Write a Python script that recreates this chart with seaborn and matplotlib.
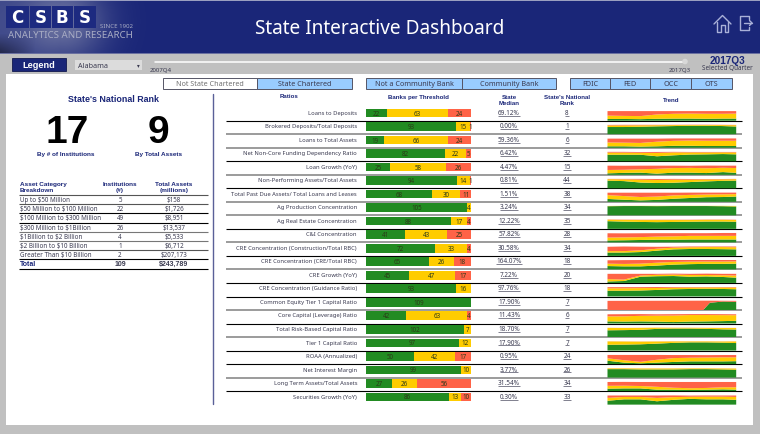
import matplotlib
matplotlib.use("Agg")
import matplotlib.pyplot as plt
from matplotlib.patches import Rectangle, Circle
import seaborn as sns
import numpy as np
import pandas as pd

ratios = ["Loans to Deposits", "Brokered Deposits/Total Deposits", "Loans to Total Assets",
          "Net Non-Core Funding Dependency Ratio", "Loan Growth (YoY)", "Non-Performing Assets/Total Assets",
          "Total Past Due Assets/ Total Loans and Leases", "Ag Production Concentration",
          "Ag Real Estate Concentration", "C&I Concentration", "CRE Concentration (Construction/Total RBC)",
          "CRE Concentration (CRE/Total RBC)", "CRE Growth (YoY)", "CRE Concentration (Guidance Ratio)",
          "Common Equity Tier 1 Capital Ratio", "Core Capital (Leverage) Ratio", "Total Risk-Based Capital Ratio",
          "Tier 1 Capital Ratio", "ROAA (Annualized)", "Net Interest Margin", "Long Term Assets/Total Assets",
          "Securities Growth (YoY)"]
banks_green = [22, 93, 19, 82, 25, 94, 68, 105, 88, 41, 72, 65, 45, 93, 109, 42, 102, 97, 50, 99, 27, 86]
banks_yellow = [63, 15, 66, 22, 58, 14, 30, 4, 17, 43, 33, 26, 47, 16, 0, 63, 7, 12, 42, 10, 26, 13]
banks_red = [24, 1, 24, 5, 26, 1, 11, 0, 4, 25, 4, 18, 17, 0, 0, 4, 0, 0, 17, 0, 56, 10]
state_median = ["69.12%", "0.00%", "59.36%", "6.42%", "4.47%", "0.81%", "1.51%", "3.24%", "12.22%", "57.82%",
                "30.58%", "164.07%", "7.22%", "97.76%", "17.90%", "11.43%", "18.70%", "17.90%", "0.95%", "3.77%",
                "31.54%", "0.30%"]
national_rank = ["8", "1", "6", "32", "15", "44", "38", "34", "35", "28", "34", "18", "20", "18", "7", "6", "7", "7",
                 "24", "26", "34", "33"]

trend_q = [0, 5, 10, 15, 20, 25, 30, 35, 39]
trend_green = [
    [18, 18, 16, 20, 22, 22, 20, 22, 22], [75, 75, 78, 82, 85, 88, 88, 85, 80], [15, 15, 12, 15, 20, 20, 18, 18, 18],
    [68, 68, 68, 52, 62, 70, 72, 75, 72], [15, 20, 22, 12, 22, 22, 18, 28, 20], [80, 75, 60, 55, 58, 65, 72, 78, 80],
    [30, 22, 15, 20, 32, 40, 48, 50, 55], [95, 97, 97, 96, 97, 97, 97, 95, 92], [80, 75, 72, 70, 72, 74, 76, 76, 74],
    [20, 22, 25, 28, 28, 30, 30, 30, 30], [35, 35, 40, 55, 68, 72, 72, 70, 68], [35, 32, 32, 40, 50, 55, 58, 58, 60],
    [15, 20, 65, 70, 72, 65, 68, 62, 55], [60, 60, 62, 68, 75, 78, 80, 78, 75], None,
    [22, 20, 22, 20, 15, 20, 22, 25, 28], [70, 72, 75, 85, 88, 88, 85, 80, 78], [60, 62, 65, 72, 80, 85, 85, 82, 78],
    [35, 15, 8, 15, 22, 28, 28, 28, 30], [88, 88, 85, 85, 85, 88, 88, 85, 82], [25, 28, 28, 15, 15, 12, 15, 18, 15],
    [40, 55, 55, 35, 50, 60, 55, 55, 50]]
trend_yellow = [
    [35, 32, 32, 45, 50, 52, 52, 50, 52], [17, 17, 15, 12, 10, 8, 8, 10, 14], [40, 38, 38, 48, 52, 55, 55, 55, 55],
    [22, 22, 20, 35, 30, 22, 20, 18, 20], [35, 32, 35, 50, 48, 50, 50, 45, 50], [15, 18, 30, 32, 32, 25, 20, 15, 15],
    [40, 38, 35, 35, 35, 32, 28, 28, 25], [3, 2, 2, 3, 2, 2, 2, 4, 6], [15, 18, 20, 22, 20, 18, 18, 18, 18],
    [30, 30, 30, 32, 35, 38, 38, 38, 38], [15, 15, 18, 20, 18, 18, 20, 22, 22], [25, 25, 28, 30, 28, 26, 24, 24, 24],
    [25, 15, 12, 15, 15, 18, 15, 18, 22], [25, 25, 25, 20, 16, 15, 14, 16, 18], None,
    [52, 55, 58, 62, 68, 68, 66, 62, 58], [25, 22, 20, 12, 8, 8, 10, 14, 16], [35, 32, 28, 22, 15, 10, 10, 12, 17],
    [25, 25, 15, 30, 40, 38, 40, 42, 40], [8, 8, 10, 10, 10, 8, 8, 10, 12], [30, 28, 25, 30, 20, 18, 18, 22, 25],
    [30, 25, 25, 35, 28, 22, 28, 28, 30]]
trend_red = [
    [47, 50, 52, 35, 28, 26, 28, 28, 26], [5, 6, 5, 4, 3, 3, 3, 3, 3], [40, 42, 45, 32, 25, 22, 24, 24, 24],
    [8, 8, 8, 10, 6, 5, 5, 4, 5], [45, 42, 38, 33, 25, 22, 28, 22, 25], [3, 5, 8, 10, 8, 7, 5, 4, 3],
    [25, 35, 45, 40, 28, 24, 20, 18, 16], [0, 0, 0, 0, 0, 0, 0, 0, 0], [3, 3, 3, 3, 3, 3, 3, 3, 3],
    [45, 42, 40, 36, 33, 28, 28, 30, 30], [45, 48, 38, 20, 10, 8, 6, 6, 8], [35, 40, 38, 28, 20, 17, 16, 16, 14],
    [55, 60, 18, 10, 10, 12, 14, 15, 18], [12, 12, 10, 10, 7, 5, 4, 4, 5], None,
    [22, 22, 18, 14, 14, 10, 10, 10, 10], [1, 1, 1, 1, 1, 1, 1, 1, 1], [1, 1, 1, 1, 1, 1, 1, 1, 1],
    [35, 55, 72, 50, 32, 28, 25, 24, 24], [1, 1, 1, 1, 1, 1, 1, 1, 1], [40, 40, 42, 50, 60, 65, 62, 55, 55],
    [25, 15, 15, 25, 18, 12, 12, 12, 15]]
# the tier 1 common ratio only starts late, so it gets its own quarters
cet1_q = [0, 29, 31, 35, 39]
cet1_green = [0, 0, 75, 88, 85]
cet1_yellow = [0, 0, 0, 0, 0]
cet1_red = [95, 97, 22, 8, 10]

asset_cats = ["Up to $50 Million", "$50 Million to $100 Million", "$100 Million to $300 Million",
              "$300 Million to $1Billion", "$1Billion to $2 Billion", "$2 Billion to $10 Billion",
              "Greater Than $10 Billion", "Total"]
asset_inst = ["5", "22", "49", "26", "4", "1", "2", "109"]
asset_total = ["$158", "$1,726", "$8,951", "$13,537", "$5,533", "$6,712", "$207,173", "$243,789"]

W, H = 760, 435
NAVY = "#1a2678"
GREEN, YELLOW, RED = "#228b22", "#ffcc00", "#ff6347"
TXT = "#3a3a50"
FONT = "Noto Sans"
BOLD = dict(family="Liberation Sans", fontweight="bold")

sns.set_theme(style="white")
plt.rcParams["font.family"] = [FONT, "DejaVu Sans"]

fig = plt.figure(figsize=(W / 100, H / 100), dpi=100, facecolor="#c0c0c0")


def px_axes(x0, y0, x1, y1, **kw):
    return fig.add_axes([x0 / W, 1 - y1 / H, (x1 - x0) / W, (y1 - y0) / H], **kw)


bg = px_axes(0, 0, W, H)
bg.set_xlim(0, W)
bg.set_ylim(H, 0)
bg.axis("off")

# header band
bg.add_patch(Rectangle((0, 0), W, 55, fc=NAVY, ec="none"))
# soft photo wash behind the logo
xx, yy = np.meshgrid(np.arange(150), np.arange(55))
wash = np.zeros((55, 150, 4))
dome = np.exp(-(((xx - 62) / 42.0) ** 2 + ((yy - 22) / 40.0) ** 2))
wash[..., :3] = [0.60, 0.62, 0.72]
wash[..., 3] = np.clip(dome * 0.62 + np.clip(1 - xx / 60.0, 0, 1) * 0.25, 0, 0.7)
bg.imshow(wash, extent=(0, 150, 55, 0), aspect="auto", zorder=1)
dark = np.zeros((55, 150, 4))
dark[..., :3] = [0.10, 0.11, 0.20]
dark[..., 3] = np.clip((yy - 34) / 20.0, 0, 1) * np.clip(1 - xx / 35.0, 0, 1) * 0.75
bg.imshow(dark, extent=(0, 150, 55, 0), aspect="auto", zorder=2)
bg.set_xlim(0, W)
bg.set_ylim(H, 0)
bg.add_patch(Rectangle((0, 0), W, 1.5, fc="#9a9fc0", ec="none", zorder=3))
bg.add_patch(Rectangle((0, 54), W, 1.2, fc="#6a70a0", ec="none", zorder=3))
for x0, x1 in [(6, 29), (30, 51), (52, 73), (74, 96)]:
    bg.add_patch(Rectangle((x0, 7), x1 - x0, 22, fc="#1d2a80", ec="none", zorder=3))
for x, letter in zip([17, 41, 62, 85], "CSBS"):
    bg.text(x, 18, letter, color="white", fontsize=12, fontweight="bold", ha="center", va="center",
            family="DejaVu Sans", zorder=4)
bg.text(116, 27, "SINCE 1902", color="#a8acc4", fontsize=4.4, ha="center", va="center", zorder=4)
bg.text(70.5, 35, "ANALYTICS AND RESEARCH", color="#a8acc4", fontsize=7, ha="center", va="center", zorder=4)
bg.text(380, 28.5, "State Interactive Dashboard", color="white", fontsize=13.7, ha="center", va="center", zorder=4)
# home and exit icons
ICON = "#a9b0d8"
bg.plot([714, 722.5, 731], [25, 16.5, 25], color=ICON, lw=1)
bg.plot([717, 717, 720.5, 720.5, 724.5, 724.5, 728, 728], [23, 32.5, 32.5, 26, 26, 32.5, 32.5, 23], color=ICON, lw=1)
bg.plot([749, 749, 740, 740, 749, 749], [20, 17, 17, 31, 31, 28], color=ICON, lw=1)
bg.plot([744, 752], [24, 24], color=ICON, lw=1)
bg.plot([749.5, 752, 749.5], [21.5, 24, 26.5], color=ICON, lw=1)

# control strip
bg.add_patch(Rectangle((12, 58.5), 54, 13.5, fc=NAVY, ec="#10184f", lw=0.6))
bg.text(39, 65.5, "Legend", color="white", fontsize=6.6, ha="center", va="center", **BOLD)
bg.add_patch(Rectangle((75, 61), 67, 10, fc="#dcdcdc", ec="none"))
bg.text(78, 66, "Alabama", color=TXT, fontsize=5.2, va="center")
bg.text(138, 66, "▾", color=TXT, fontsize=4, ha="center", va="center", family="DejaVu Sans")
bg.plot([155, 685], [62.5, 62.5], color="white", lw=1.1, solid_capstyle="round")
bg.add_patch(Circle((685, 62.5), 2.8, fc="#d8d8d8", ec="none", zorder=3))
bg.text(161, 70.5, "2007Q4", color=TXT, fontsize=4.4, ha="center", va="center")
bg.text(680, 70.5, "2017Q3", color=TXT, fontsize=4.4, ha="center", va="center")
bg.text(727, 61, "2017Q3", color=NAVY, fontsize=7.2, ha="center", va="center", **BOLD)
bg.text(727, 68.5, "Selected Quarter", color=TXT, fontsize=4.6, ha="center", va="center")

# white panel
bg.add_patch(Rectangle((6, 75), 747, 351, fc="white", ec="none"))

toggles = [("Not State Chartered", 163, 257, False), ("State Chartered", 257, 352, True),
           ("Not a Community Bank", 366, 462, True), ("Community Bank", 462, 556, True),
           ("FDIC", 570, 610, True), ("FED", 610, 650, True), ("OCC", 650, 691, True), ("OTS", 691, 732, True)]
for label, x0, x1, on in toggles:
    bg.add_patch(Rectangle((x0, 78.5), x1 - x0, 11.5, fc="#99ccff" if on else "white", ec="#555566", lw=0.7))
    bg.text((x0 + x1) / 2, 84.3, label, color=TXT if on else "#707070", fontsize=5.2, ha="center", va="center")

# left panel
bg.plot([213, 213], [95, 405], color="#5a6098", lw=1)
bg.text(113, 99.5, "State's National Rank", color=NAVY, fontsize=6.4, ha="center", va="center", **BOLD)
bg.text(67, 133, "17", color="black", fontsize=28, ha="center", va="center", **BOLD)
bg.text(158, 133, "9", color="black", fontsize=28, ha="center", va="center", **BOLD)
bg.text(66, 155, "By # of Institutions", color=NAVY, fontsize=4.6, ha="center", va="center", **BOLD)
bg.text(159, 155, "By Total Assets", color=NAVY, fontsize=4.6, ha="center", va="center", **BOLD)
bg.text(19.5, 187.5, "Asset Category\nBreakdown", color=NAVY, fontsize=4.6, va="center", linespacing=1.15, **BOLD)
bg.text(120, 187.5, "Institutions\n(#)", color=NAVY, fontsize=4.6, ha="center", va="center", linespacing=1.15, **BOLD)
bg.text(174, 187.5, "Total Assets\n(millions)", color=NAVY, fontsize=4.6, ha="center", va="center", linespacing=1.15,
        **BOLD)
table_line_col = ["#555555", "#555555", "black", "black", "#777777", "#777777", "#555555", "black", "black"]
for i, col in enumerate(table_line_col):
    bg.plot([19, 208], [196 + i * 9.2] * 2, color=col, lw=0.8, solid_capstyle="butt")
for i, cat in enumerate(asset_cats):
    y = 200.7 + i * 9.15
    kw = dict(fontsize=4.5, va="center", parse_math=False)
    if i == len(asset_cats) - 1:
        kw.update(BOLD, fontsize=5)
    bg.text(19.5, y, cat, color=NAVY if i == len(asset_cats) - 1 else TXT, **kw)
    bg.text(120, y, asset_inst[i], color=TXT, ha="center", **kw)
    bg.text(174, y, asset_total[i], color=TXT, ha="center", **kw)

# right table
ROW0, PITCH = 114.0, 13.52
bg.text(289, 97, "Ratios", color=NAVY, fontsize=4.4, ha="center", va="center", **BOLD)
bg.text(418, 97, "Banks per Threshold", color=NAVY, fontsize=4.4, ha="center", va="center", **BOLD)
bg.text(509, 100.5, "State\nMedian", color=NAVY, fontsize=4.4, ha="center", va="center", linespacing=1.15, **BOLD)
bg.text(567, 100.5, "State's National\nRank", color=NAVY, fontsize=4.4, ha="center", va="center", linespacing=1.15,
        **BOLD)
bg.text(671, 100, "Trend", color=NAVY, fontsize=4.4, ha="center", va="center", **BOLD)

sep_black = [1, 0, 0, 1, 0, 1, 0, 0, 1, 0, 1, 0, 1, 1, 0, 1, 0, 1, 1, 0, 1]
for i, is_black in enumerate(sep_black):
    y = ROW0 + (i + 0.5) * PITCH + 1
    bg.plot([226, 742], [y, y], color="black" if is_black else "#808080", lw=0.8 if is_black else 1.1,
            solid_capstyle="butt")

fig.canvas.draw()
rend = fig.canvas.get_renderer()
for i, name in enumerate(ratios):
    y = ROW0 + i * PITCH
    bg.text(357, y - 0.8, name, color=TXT, fontsize=4.2, ha="right", va="center")
    for x, s in [(509, state_median[i]), (567, national_rank[i])]:
        t = bg.text(x, y - 0.8, s, color=TXT, fontsize=4.6, ha="center", va="center")
        box = t.get_window_extent(rend)
        bg.plot([box.x0, box.x1], [y + 2.6, y + 2.6], color=TXT, lw=0.45, solid_capstyle="butt")

# stacked bars, drawn as overlays from the longest down
df = pd.DataFrame({"ratio": ratios, "green": banks_green, "yellow": banks_yellow, "red": banks_red})
df["g_y"] = df["green"] + df["yellow"]
df["all"] = df["g_y"] + df["red"]

ax = px_axes(366, ROW0 - PITCH / 2, 471, ROW0 + 21.5 * PITCH)
ax.patch.set_alpha(0)
sns.barplot(data=df, x="all", y="ratio", color=RED, saturation=1, width=0.64, linewidth=0, ax=ax)
sns.barplot(data=df, x="g_y", y="ratio", color=YELLOW, saturation=1, width=0.64, linewidth=0, ax=ax)
sns.barplot(data=df, x="green", y="ratio", color=GREEN, saturation=1, width=0.64, linewidth=0, ax=ax)
ax.set_xlim(0, 109)
ax.set_ylim(21.5, -0.5)
ax.axis("off")
for i, row in df.iterrows():
    for start, val in [(0, row["green"]), (row["green"], row["yellow"]), (row["g_y"], row["red"])]:
        if val > 0:
            ax.text(start + val / 2, i, str(val), color="#2c3a18", fontsize=4.5, ha="center", va="center")

# trend strips sit on the separator below each row
for i in range(len(ratios)):
    y = ROW0 + i * PITCH + 2.4
    tax = px_axes(607, y - 4.8, 735.7, y + 4.8)
    tax.patch.set_alpha(0)
    if trend_green[i] is None:
        q, g, yl, r = cet1_q, cet1_green, cet1_yellow, cet1_red
    else:
        q, g, yl, r = trend_q, trend_green[i], trend_yellow[i], trend_red[i]
    tax.stackplot(q, g, yl, r, colors=[GREEN, YELLOW, RED], linewidth=0)
    tax.set_xlim(0, 39)
    tax.set_ylim(0, 100)
    tax.axis("off")

fig.savefig("out.png", dpi=100, facecolor=fig.get_facecolor())
